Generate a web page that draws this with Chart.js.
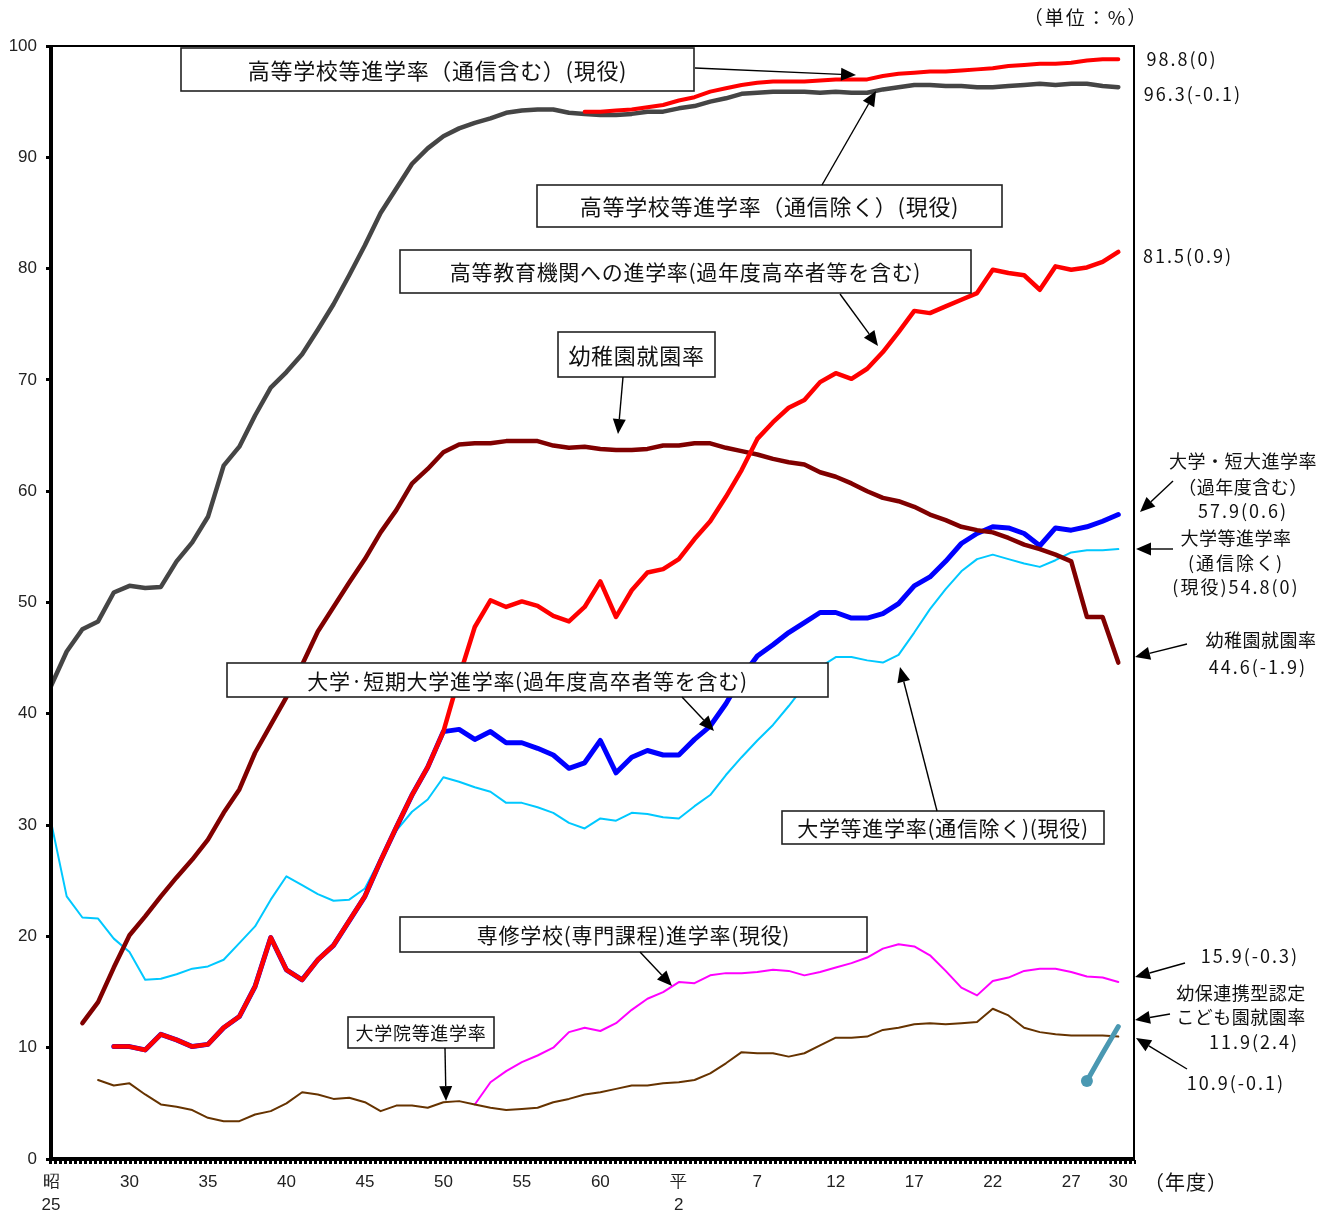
<!DOCTYPE html>
<html lang="ja">
<head>
<meta charset="utf-8">
<title>進学率等の推移</title>
<script src="https://cdn.jsdelivr.net/npm/chart.js@4.4.1/dist/chart.umd.min.js"></script>
<style>
  html, body { margin: 0; padding: 0; background: #fff; }
  #wrap { width: 1335px; height: 1214px; }
</style>
</head>
<body>
<div id="wrap"><canvas id="chart" width="1335" height="1214"></canvas></div>
<script>
// ─────────────────────────────────────────────
// 1. DATA (年度, %)
// ─────────────────────────────────────────────
const X_TICK_YEARS  = [1950, 1955, 1960, 1965, 1970, 1975, 1980, 1985, 1990, 1995, 2000, 2005, 2010, 2015, 2018];
const X_TICK_LABELS = [['昭', '25'], '30', '35', '40', '45', '50', '55', '60', ['平', '2'], '7', '12', '17', '22', '27', '30'];

// 高等学校等進学率(通信除く)(現役) 1950-
const highSchoolFrom = 1950;
const highSchool = [42.5, 45.6, 47.6, 48.3, 50.9, 51.5, 51.3, 51.4, 53.7, 55.4,
  57.7, 62.3, 64.0, 66.8, 69.3, 70.7, 72.3, 74.5, 76.8, 79.4,
  82.1, 85.0, 87.2, 89.4, 90.8, 91.9, 92.6, 93.1, 93.5, 94.0,
  94.2, 94.3, 94.3, 94.0, 93.9, 93.8, 93.8, 93.9, 94.1, 94.1,
  94.4, 94.6, 95.0, 95.3, 95.7, 95.8, 95.9, 95.9, 95.9, 95.8,
  95.9, 95.8, 95.8, 96.1, 96.3, 96.5, 96.5, 96.4, 96.4, 96.3,
  96.3, 96.4, 96.5, 96.6, 96.5, 96.6, 96.6, 96.4, 96.3];

// 高等学校等進学率(通信含む)(現役) 1984-
const highSchoolAllFrom = 1984;
const highSchoolAll = [94.1, 94.1, 94.2, 94.3, 94.5, 94.7, 95.1, 95.4, 95.9, 96.2,
  96.5, 96.7, 96.8, 96.8, 96.8, 96.9, 97.0, 97.0, 97.0, 97.3,
  97.5, 97.6, 97.7, 97.7, 97.8, 97.9, 98.0, 98.2, 98.3, 98.4,
  98.4, 98.5, 98.7, 98.8, 98.8];

// 高等教育機関への進学率(過年度高卒者等を含む) 1954-
const tertiaryFrom = 1954;
const tertiary = [10.1, 10.1, 9.8, 11.2, 10.7, 10.1,
  10.3, 11.8, 12.8, 15.5, 19.9, 17.0, 16.1, 17.9, 19.2, 21.4,
  23.6, 26.8, 29.8, 32.7, 35.2, 38.4, 43.3, 47.8, 50.2, 49.6,
  50.1, 49.7, 48.8, 48.3, 49.6, 51.9, 48.7, 51.1, 52.7, 53.0,
  53.9, 55.7, 57.3, 59.5, 61.9, 64.7, 66.2, 67.5, 68.2, 69.8,
  70.6, 70.1, 71.0, 72.5, 74.3, 76.2, 76.0, 76.6, 77.2, 77.8,
  79.9, 79.6, 79.4, 78.1, 80.2, 79.9, 80.1, 80.6, 81.5];

// 大学・短期大学進学率(過年度高卒者等を含む) 1954-
const univJuniorFrom = 1954;
const univJunior = [10.1, 10.1, 9.8, 11.2, 10.7, 10.1,
  10.3, 11.8, 12.8, 15.5, 19.9, 17.0, 16.1, 17.9, 19.2, 21.4,
  23.6, 26.8, 29.8, 32.7, 35.2, 38.4, 38.6, 37.7, 38.4, 37.4,
  37.4, 36.9, 36.3, 35.1, 35.6, 37.6, 34.7, 36.1, 36.7, 36.3,
  36.3, 37.7, 38.9, 40.9, 43.3, 45.2, 46.2, 47.3, 48.2, 49.1,
  49.1, 48.6, 48.6, 49.0, 49.9, 51.5, 52.3, 53.7, 55.3, 56.2,
  56.8, 56.7, 56.2, 55.1, 56.7, 56.5, 56.8, 57.3, 57.9];

// 大学等進学率(通信除く)(現役) 1950-
const univCurrentFrom = 1950;
const univCurrent = [30.3, 23.6, 21.7, 21.6, 19.8, 18.6, 16.1, 16.2, 16.6, 17.1,
  17.3, 17.9, 19.4, 20.9, 23.3, 25.4, 24.6, 23.8, 23.2, 23.3,
  24.3, 27.0, 29.5, 31.2, 32.3, 34.3, 33.9, 33.4, 33.0, 32.0,
  32.0, 31.6, 31.1, 30.2, 29.7, 30.6, 30.4, 31.1, 31.0, 30.7,
  30.6, 31.7, 32.7, 34.5, 36.1, 37.6, 39.0, 40.7, 42.5, 44.2,
  45.1, 45.1, 44.8, 44.6, 45.3, 47.3, 49.4, 51.2, 52.8, 53.9,
  54.3, 53.9, 53.5, 53.2, 53.8, 54.5, 54.7, 54.7, 54.8];

// 幼稚園就園率 1952-
const kindergartenFrom = 1952;
const kindergarten = [12.2, 14.1, 17.2, 20.1, 21.8, 23.6, 25.3, 26.9,
  28.7, 31.1, 33.2, 36.5, 39.0, 41.5, 44.4, 47.4, 49.6, 51.8,
  53.9, 56.3, 58.3, 60.7, 62.0, 63.5, 64.2, 64.3, 64.3, 64.5,
  64.5, 64.5, 64.1, 63.9, 64.0, 63.8, 63.7, 63.7, 63.8, 64.1,
  64.1, 64.3, 64.3, 63.9, 63.6, 63.3, 62.9, 62.6, 62.4, 61.7,
  61.3, 60.7, 60.0, 59.4, 59.1, 58.6, 57.9, 57.4, 56.8, 56.5,
  56.3, 55.8, 55.2, 54.8, 54.3, 53.7, 48.7, 48.7, 44.6];

// 専修学校(専門課程)進学率(現役) 1977-
const senshuFrom = 1977;
const senshu = [4.9, 6.9, 7.9,
  8.7, 9.3, 10.0, 11.4, 11.8, 11.5, 12.2, 13.4, 14.4, 15.0,
  15.9, 15.8, 16.5, 16.7, 16.7, 16.8, 17.0, 16.9, 16.5, 16.8,
  17.2, 17.6, 18.1, 18.9, 19.3, 19.1, 18.3, 16.9, 15.4, 14.7,
  16.0, 16.3, 16.9, 17.1, 17.1, 16.8, 16.4, 16.3, 15.9];

// 大学院等進学率 1953-
const gradFrom = 1953;
const grad = [7.1, 6.6, 6.8, 5.8, 4.9, 4.7, 4.4,
  3.7, 3.4, 3.4, 4.0, 4.3, 5.0, 6.0, 5.8, 5.4, 5.5,
  5.1, 4.3, 4.8, 4.8, 4.6, 5.1, 5.2, 4.9, 4.6, 4.4,
  4.5, 4.6, 5.1, 5.4, 5.8, 6.0, 6.3, 6.6, 6.6, 6.8,
  6.9, 7.1, 7.7, 8.6, 9.6, 9.5, 9.5, 9.2, 9.5, 10.2,
  10.9, 10.9, 11.0, 11.6, 11.8, 12.1, 12.2, 12.1, 12.2, 12.3,
  13.5, 12.9, 11.8, 11.4, 11.2, 11.1, 11.1, 11.1, 11.0];

// 幼保連携型認定こども園就園率 2016-
const kodomoenFrom = 2016;
const kodomoen = [7.0, 9.5, 11.9];

// ─────────────────────────────────────────────
// 2. ANNOTATIONS (boxes, side labels, arrows)
// ─────────────────────────────────────────────
const BOXES = [
  { text: '高等学校等進学率（通信含む）(現役)', box: [181, 48, 694, 91], size: 22, arrow: [695, 68, 856, 75] },
  { text: '高等学校等進学率（通信除く）(現役)', box: [537, 185, 1002, 227], size: 22, arrow: [822, 185, 876, 91] },
  { text: '高等教育機関への進学率(過年度高卒者等を含む)', box: [400, 250, 971, 293], size: 21, arrow: [840, 294, 878, 346] },
  { text: '幼稚園就園率', box: [558, 332, 715, 377], size: 22, arrow: [623, 377, 618, 434] },
  { text: '大学·短期大学進学率(過年度高卒者等を含む)', box: [227, 663, 828, 697], size: 21, arrow: [682, 697, 714, 731] },
  { text: '大学等進学率(通信除く)(現役)', box: [782, 811, 1104, 844], size: 21, arrow: [937, 811, 900, 667] },
  { text: '専修学校(専門課程)進学率(現役)', box: [400, 917, 867, 952], size: 21, arrow: [640, 952, 672, 986] },
  { text: '大学院等進学率', box: [348, 1017, 494, 1048], size: 18, arrow: [445, 1048, 446, 1101] }
];

const SIDE_TEXT = [
  ['98.8(0)', 1182, 59],
  ['96.3(-0.1)', 1193, 94],
  ['81.5(0.9)', 1188, 256],
  ['大学・短大進学率', 1243, 461],
  ['（過年度含む）', 1243, 487],
  ['57.9(0.6)', 1243, 511],
  ['大学等進学率', 1236, 538],
  ['(通信除く)', 1236, 563],
  ['(現役)54.8(0)', 1236, 587],
  ['幼稚園就園率', 1261, 640],
  ['44.6(-1.9)', 1258, 667],
  ['15.9(-0.3)', 1250, 956],
  ['幼保連携型認定', 1241, 993],
  ['こども園就園率', 1241, 1017],
  ['11.9(2.4)', 1254, 1042],
  ['10.9(-0.1)', 1236, 1083]
];

const SIDE_ARROWS = [
  [1173, 481, 1140, 512],
  [1173, 549, 1136, 549],
  [1187, 644, 1135, 657],
  [1185, 963, 1135, 977],
  [1170, 1014, 1135, 1020],
  [1187, 1069, 1136, 1038]
];

// ─────────────────────────────────────────────
// 3. HELPERS
// ─────────────────────────────────────────────
function toPoints(from, vals) {
  return vals.map((v, i) => ({ x: from + i, y: v }));
}

function series(label, from, vals, color, width, order, extra) {
  return Object.assign({
    label: label,
    data: toPoints(from, vals),
    borderColor: color,
    backgroundColor: color,
    borderWidth: width,
    pointRadius: 0,
    pointHoverRadius: 0,
    tension: 0,
    borderJoinStyle: 'round',
    borderCapStyle: 'round',
    fill: false,
    order: order
  }, extra || {});
}

function drawArrow(ctx, x1, y1, x2, y2) {
  const ang = Math.atan2(y2 - y1, x2 - x1);
  const len = 15, half = 6.5;
  const bx = x2 - len * Math.cos(ang), by = y2 - len * Math.sin(ang);
  ctx.beginPath();
  ctx.moveTo(x1, y1);
  ctx.lineTo(bx, by);
  ctx.lineWidth = 1.4;
  ctx.strokeStyle = '#000';
  ctx.stroke();
  ctx.beginPath();
  ctx.moveTo(x2, y2);
  ctx.lineTo(bx + half * Math.sin(ang), by - half * Math.cos(ang));
  ctx.lineTo(bx - half * Math.sin(ang), by + half * Math.cos(ang));
  ctx.closePath();
  ctx.fillStyle = '#000';
  ctx.fill();
}

const JP = '"Noto Sans CJK JP", "Noto Sans", sans-serif';

// ─────────────────────────────────────────────
// 4. FRAME + ANNOTATION PLUGIN
// ─────────────────────────────────────────────
const framePlugin = {
  id: 'frame',
  afterDatasetsDraw(chart) {
    const ctx = chart.ctx;
    const a = chart.chartArea;
    ctx.save();

    // top / right border (thin)
    ctx.strokeStyle = '#000';
    ctx.lineWidth = 2;
    ctx.beginPath();
    ctx.moveTo(a.left, a.top);
    ctx.lineTo(a.right, a.top);
    ctx.lineTo(a.right, a.bottom);
    ctx.stroke();

    // left / bottom axis (thick)
    ctx.lineWidth = 4;
    ctx.beginPath();
    ctx.moveTo(a.left, a.top - 1);
    ctx.lineTo(a.left, a.bottom);
    ctx.lineTo(a.right + 1, a.bottom);
    ctx.stroke();

    // dashed tick row under the x axis
    ctx.setLineDash([3, 2]);
    ctx.lineWidth = 4;
    ctx.beginPath();
    ctx.moveTo(a.left - 2, a.bottom + 3);
    ctx.lineTo(a.right + 2, a.bottom + 3);
    ctx.stroke();
    ctx.setLineDash([]);

    // boxes with arrows
    BOXES.forEach(b => {
      const [x1, y1, x2, y2] = b.box;
      ctx.fillStyle = '#fff';
      ctx.fillRect(x1, y1, x2 - x1, y2 - y1);
      ctx.lineWidth = 1.6;
      ctx.strokeStyle = '#222';
      ctx.strokeRect(x1, y1, x2 - x1, y2 - y1);
      ctx.fillStyle = '#111';
      ctx.font = b.size + 'px ' + JP;
      ctx.textAlign = 'center';
      ctx.textBaseline = 'middle';
      ctx.letterSpacing = '0.7px';
      ctx.fillText(b.text, (x1 + x2) / 2, (y1 + y2) / 2 + 1);
      ctx.letterSpacing = '0px';
      drawArrow(ctx, ...b.arrow);
    });

    // right side labels
    ctx.font = '18px ' + JP;
    ctx.fillStyle = '#111';
    ctx.textAlign = 'center';
    ctx.textBaseline = 'middle';
    SIDE_TEXT.forEach(([t, x, y]) => {
      ctx.letterSpacing = /^[0-9(]/.test(t) ? '2px' : '0.5px';
      ctx.fillText(t, x, y);
    });

    // unit and axis title
    ctx.font = '19px ' + JP;
    ctx.letterSpacing = '2px';
    ctx.fillText('（単位：%）', 1086, 18);
    ctx.font = '20px ' + JP;
    ctx.letterSpacing = '1px';
    ctx.fillText('（年度）', 1186, 1182);
    ctx.letterSpacing = '0px';

    SIDE_ARROWS.forEach(ar => drawArrow(ctx, ...ar));

    ctx.restore();
  }
};

// ─────────────────────────────────────────────
// 5. CHART
// ─────────────────────────────────────────────
const datasets = [
  series('高等学校等進学率(通信含む)(現役)', highSchoolAllFrom, highSchoolAll, '#ff0000', 4, 0),
  series('高等教育機関への進学率', tertiaryFrom, tertiary, '#ff0000', 4.5, 1),
  series('高等学校等進学率(通信除く)(現役)', highSchoolFrom, highSchool, '#454545', 4.5, 2),
  series('幼稚園就園率', kindergartenFrom, kindergarten, '#800000', 4.5, 3),
  series('大学・短期大学進学率', univJuniorFrom, univJunior, '#0000ff', 5, 4),
  series('幼保連携型認定こども園就園率', kodomoenFrom, kodomoen, '#4a98b2', 5, 5,
    { pointRadius: [6, 0, 0], pointBorderWidth: 0 }),
  series('大学院等進学率', gradFrom, grad, '#663300', 2, 6),
  series('専修学校(専門課程)進学率(現役)', senshuFrom, senshu, '#ff00ff', 2, 7),
  series('大学等進学率(通信除く)(現役)', univCurrentFrom, univCurrent, '#00c8ff', 2, 8)
];

new Chart(document.getElementById('chart'), {
  type: 'line',
  data: { datasets: datasets },
  options: {
    responsive: false,
    animation: false,
    devicePixelRatio: 1,
    layout: { padding: { top: 46, right: 201, left: 0, bottom: 0 } },
    plugins: { legend: { display: false }, tooltip: { enabled: false } },
    scales: {
      x: {
        type: 'linear',
        min: 1950,
        max: 2019,
        afterBuildTicks: scale => { scale.ticks = X_TICK_YEARS.map(v => ({ value: v })); },
        afterFit: scale => { scale.height = 55; },
        grid: { display: true, drawOnChartArea: false, drawTicks: false },
        border: { display: false },
        ticks: {
          autoSkip: false,
          maxRotation: 0,
          padding: 11,
          color: '#222',
          font: { family: '"Liberation Sans", Arial, sans-serif', size: 17, lineHeight: 1.4 },
          callback: (value, index) => X_TICK_LABELS[index]
        }
      },
      y: {
        min: 0,
        max: 100,
        afterFit: scale => { scale.width = 51; },
        grid: { drawOnChartArea: false, drawTicks: true, tickLength: 5, tickColor: '#000', tickWidth: 3 },
        border: { display: false },
        ticks: {
          stepSize: 10,
          padding: 9,
          color: '#222',
          font: { family: '"Liberation Sans", Arial, sans-serif', size: 17 }
        }
      }
    }
  },
  plugins: [framePlugin]
});
</script>
</body>
</html>
